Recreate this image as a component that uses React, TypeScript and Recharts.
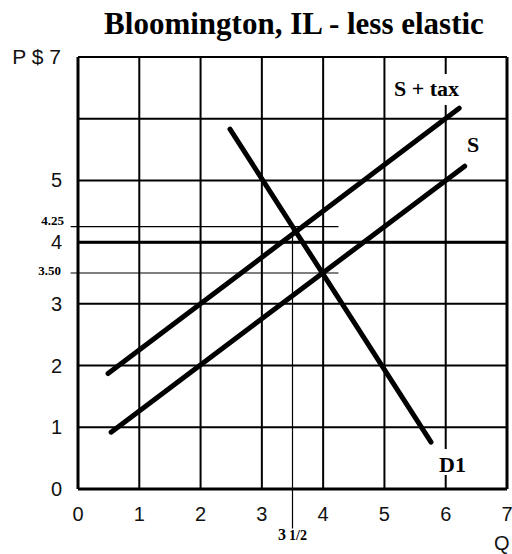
import React from 'react';
import { LineChart, Line, XAxis, YAxis, CartesianGrid, ReferenceLine } from 'recharts';

// ---- data ----
const xTicks = [0, 1, 2, 3, 3.5, 4, 5, 6, 7];
const yTicks = [0, 1, 2, 3, 3.5, 4, 4.25, 5, 7];
const gridValues = [0, 1, 2, 3, 4, 5, 6, 7];
const supplyS = [
  { q: 0.54, p: 0.92 },
  { q: 6.31, p: 5.23 },
];
const supplyTax = [
  { q: 0.49, p: 1.87 },
  { q: 6.22, p: 6.17 },
];
const demandD1 = [
  { q: 2.48, p: 5.83 },
  { q: 5.76, p: 0.76 },
];
const taxPrice = 4.25;
const eqPrice = 3.5;
const taxQty = 3.5;
const guideStartQ = -0.12;
const guideEndQ = 4.25;
const guideBottomP = -0.64;

const SANS = '"Liberation Sans", Arial, sans-serif';
const SERIF = '"Liberation Serif", "Times New Roman", serif';

const XTick = (props: any) => {
  const { x, y, payload } = props;
  const v = payload.value;
  if (v === 3.5) {
    return (
      <text x={x} y={y + 51} textAnchor="middle" fontFamily={SERIF} fontWeight="bold" fontSize={16} fill="#000">
        3<tspan dx={3} fontSize={14}>1/2</tspan>
      </text>
    );
  }
  return (
    <text x={x} y={y + 32} textAnchor="middle" fontFamily={SANS} fontSize={20} fill="#111">
      {v}
    </text>
  );
};

const YTick = (props: any) => {
  const { x, y, payload } = props;
  const v = payload.value;
  if (v === 4.25) {
    return (
      <text x={x + 2} y={y - 2} textAnchor="end" fontFamily={SERIF} fontWeight="bold" fontSize={13} fill="#000">
        4.25
      </text>
    );
  }
  if (v === 3.5) {
    return (
      <text x={x - 1} y={y + 2} textAnchor="end" fontFamily={SERIF} fontWeight="bold" fontSize={13} fill="#000">
        3.50
      </text>
    );
  }
  if (v === 7) {
    return (
      <text x={x - 1} y={y + 7} textAnchor="end" fontFamily={SANS} fontSize={21} fill="#111">
        P $ 7
      </text>
    );
  }
  return (
    <text x={x} y={y + 7} textAnchor="end" fontFamily={SANS} fontSize={20} fill="#111">
      {v}
    </text>
  );
};

export default function App() {
  return (
    <div style={{ position: 'absolute', left: 0, top: 0, width: 512, height: 554, background: '#fff' }}>
      <LineChart width={512} height={554} margin={{ top: 57, right: 5, bottom: 35, left: 0 }}>
        <CartesianGrid
          horizontalValues={gridValues}
          verticalValues={gridValues}
          stroke="#000"
          strokeWidth={2}
          strokeDasharray=""
        />
        <XAxis
          type="number"
          dataKey="q"
          domain={[0, 7]}
          ticks={xTicks}
          interval={0}
          height={30}
          tickSize={0}
          tickMargin={0}
          tickLine={false}
          axisLine={{ stroke: '#000', strokeWidth: 3 }}
          tick={<XTick />}
        />
        <YAxis
          type="number"
          dataKey="p"
          domain={[0, 7]}
          ticks={yTicks}
          interval={0}
          width={78}
          tickSize={0}
          tickMargin={16}
          tickLine={false}
          axisLine={{ stroke: '#000', strokeWidth: 3 }}
          tick={<YTick />}
        />
        <ReferenceLine x={7} stroke="#000" strokeWidth={3} />
        <ReferenceLine y={4} stroke="#000" strokeWidth={3} />
        <ReferenceLine
          segment={[{ x: guideStartQ, y: taxPrice }, { x: guideEndQ, y: taxPrice }]}
          stroke="#000"
          strokeWidth={1.2}
          ifOverflow="visible"
        />
        <ReferenceLine
          segment={[{ x: guideStartQ, y: eqPrice }, { x: guideEndQ, y: eqPrice }]}
          stroke="#000"
          strokeWidth={1.2}
          ifOverflow="visible"
        />
        <ReferenceLine
          segment={[{ x: taxQty, y: guideBottomP }, { x: taxQty, y: taxPrice }]}
          stroke="#000"
          strokeWidth={1.2}
          ifOverflow="visible"
        />
        <Line data={supplyTax} dataKey="p" type="linear" stroke="#000" strokeWidth={5} strokeLinecap="round" dot={false} isAnimationActive={false} />
        <Line data={supplyS} dataKey="p" type="linear" stroke="#000" strokeWidth={5} strokeLinecap="round" dot={false} isAnimationActive={false} />
        <Line data={demandD1} dataKey="p" type="linear" stroke="#000" strokeWidth={5} strokeLinecap="round" dot={false} isAnimationActive={false} />
      </LineChart>
      <svg width={512} height={554} style={{ position: 'absolute', left: 0, top: 0, pointerEvents: 'none' }}>
        <text x={294} y={34} textAnchor="middle" fontFamily={SERIF} fontWeight="bold" fontSize={31} fill="#000">
          Bloomington, IL - less elastic
        </text>
        <rect x={392} y={74} width={78} height={31} fill="#fff" />
        <text x={394} y={96} fontFamily={SERIF} fontWeight="bold" fontSize={22} fill="#000">
          S + tax
        </text>
        <text x={467} y={152} fontFamily={SERIF} fontWeight="bold" fontSize={22} fill="#000">
          S
        </text>
        <rect x={437} y={449} width={32} height={26} fill="#fff" />
        <text x={439} y={472} fontFamily={SERIF} fontWeight="bold" fontSize={22} fill="#000">
          D1
        </text>
        <text x={494} y={550} fontFamily={SANS} fontSize={20} fill="#111">
          Q
        </text>
      </svg>
    </div>
  );
}
